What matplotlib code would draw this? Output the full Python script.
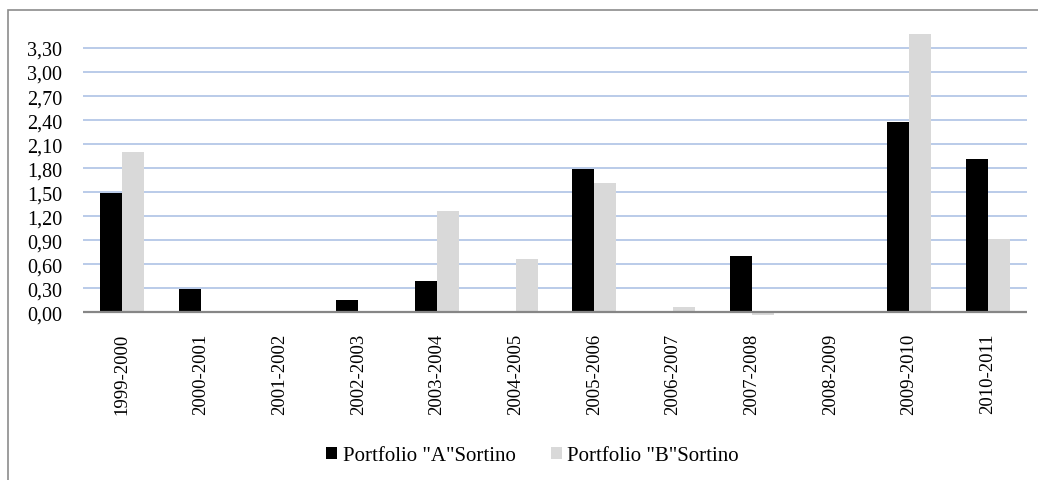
import numpy as np
import matplotlib.pyplot as plt
from matplotlib.patches import Rectangle

# data
periods = ["1999-2000", "2000-2001", "2001-2002", "2002-2003", "2003-2004", "2004-2005",
           "2005-2006", "2006-2007", "2007-2008", "2008-2009", "2009-2010", "2010-2011"]
sortino_a = [1.49, 0.29, 0.0, 0.15, 0.39, 0.0, 1.79, 0.0, 0.70, 0.0, 2.37, 1.91]
sortino_b = [2.00, 0.0, 0.015, 0.0, 1.27, 0.67, 1.62, 0.07, -0.03, 0.0, 3.47, 0.92]
yticks = [0.0, 0.3, 0.6, 0.9, 1.2, 1.5, 1.8, 2.1, 2.4, 2.7, 3.0, 3.3]
legend_labels = ['Portfolio "A"Sortino', 'Portfolio "B"Sortino']

plt.rcParams['font.family'] = ['Liberation Serif', 'DejaVu Serif']

fig = plt.figure(figsize=(10.38, 4.81), dpi=100)
ax = fig.add_axes([0.08, 0.3437, 0.9094, 0.5877])

# outer chart frame (runs off the right and bottom edges)
fig.patches.append(Rectangle((8 / 1038, -0.1), 1.2, 1 - 11 / 481 + 0.1,
                             transform=fig.transFigure, fill=False,
                             edgecolor="#8c8c8c", linewidth=1.2, clip_on=False))

x = np.arange(len(periods))
w = 0.28
ax.bar(x - w / 2, sortino_a, width=w, color="black", label=legend_labels[0], zorder=3)
ax.bar(x + w / 2, sortino_b, width=w, color="#d9d9d9", label=legend_labels[1], zorder=3)

ax.set_xlim(-0.5, len(periods) - 0.5)
ax.set_ylim(-0.03, 3.5)
ax.set_yticks(yticks)
ax.set_yticklabels([f"{v:.2f}".replace(".", ",") for v in yticks], fontsize=14.5)
ax.set_xticks(x)
ax.set_xticklabels(periods, rotation=90, fontsize=13.5, va="top")
ax.tick_params(axis="both", length=0)
ax.tick_params(axis="y", pad=15)
ax.tick_params(axis="x", pad=13)

for v in yticks[1:]:
    ax.axhline(v, color="#b4c7e7", linewidth=1.3, zorder=1)
ax.axhline(0, color="#868686", linewidth=1.6, zorder=4)

for s in ax.spines.values():
    s.set_visible(False)

fig.legend(loc="center", bbox_to_anchor=(0.513, 1 - 457 / 481), ncol=2, frameon=False,
           fontsize=15, handlelength=0.55, handleheight=0.55, handletextpad=0.25,
           columnspacing=1.7)

fig.savefig("out.png", dpi=100)
